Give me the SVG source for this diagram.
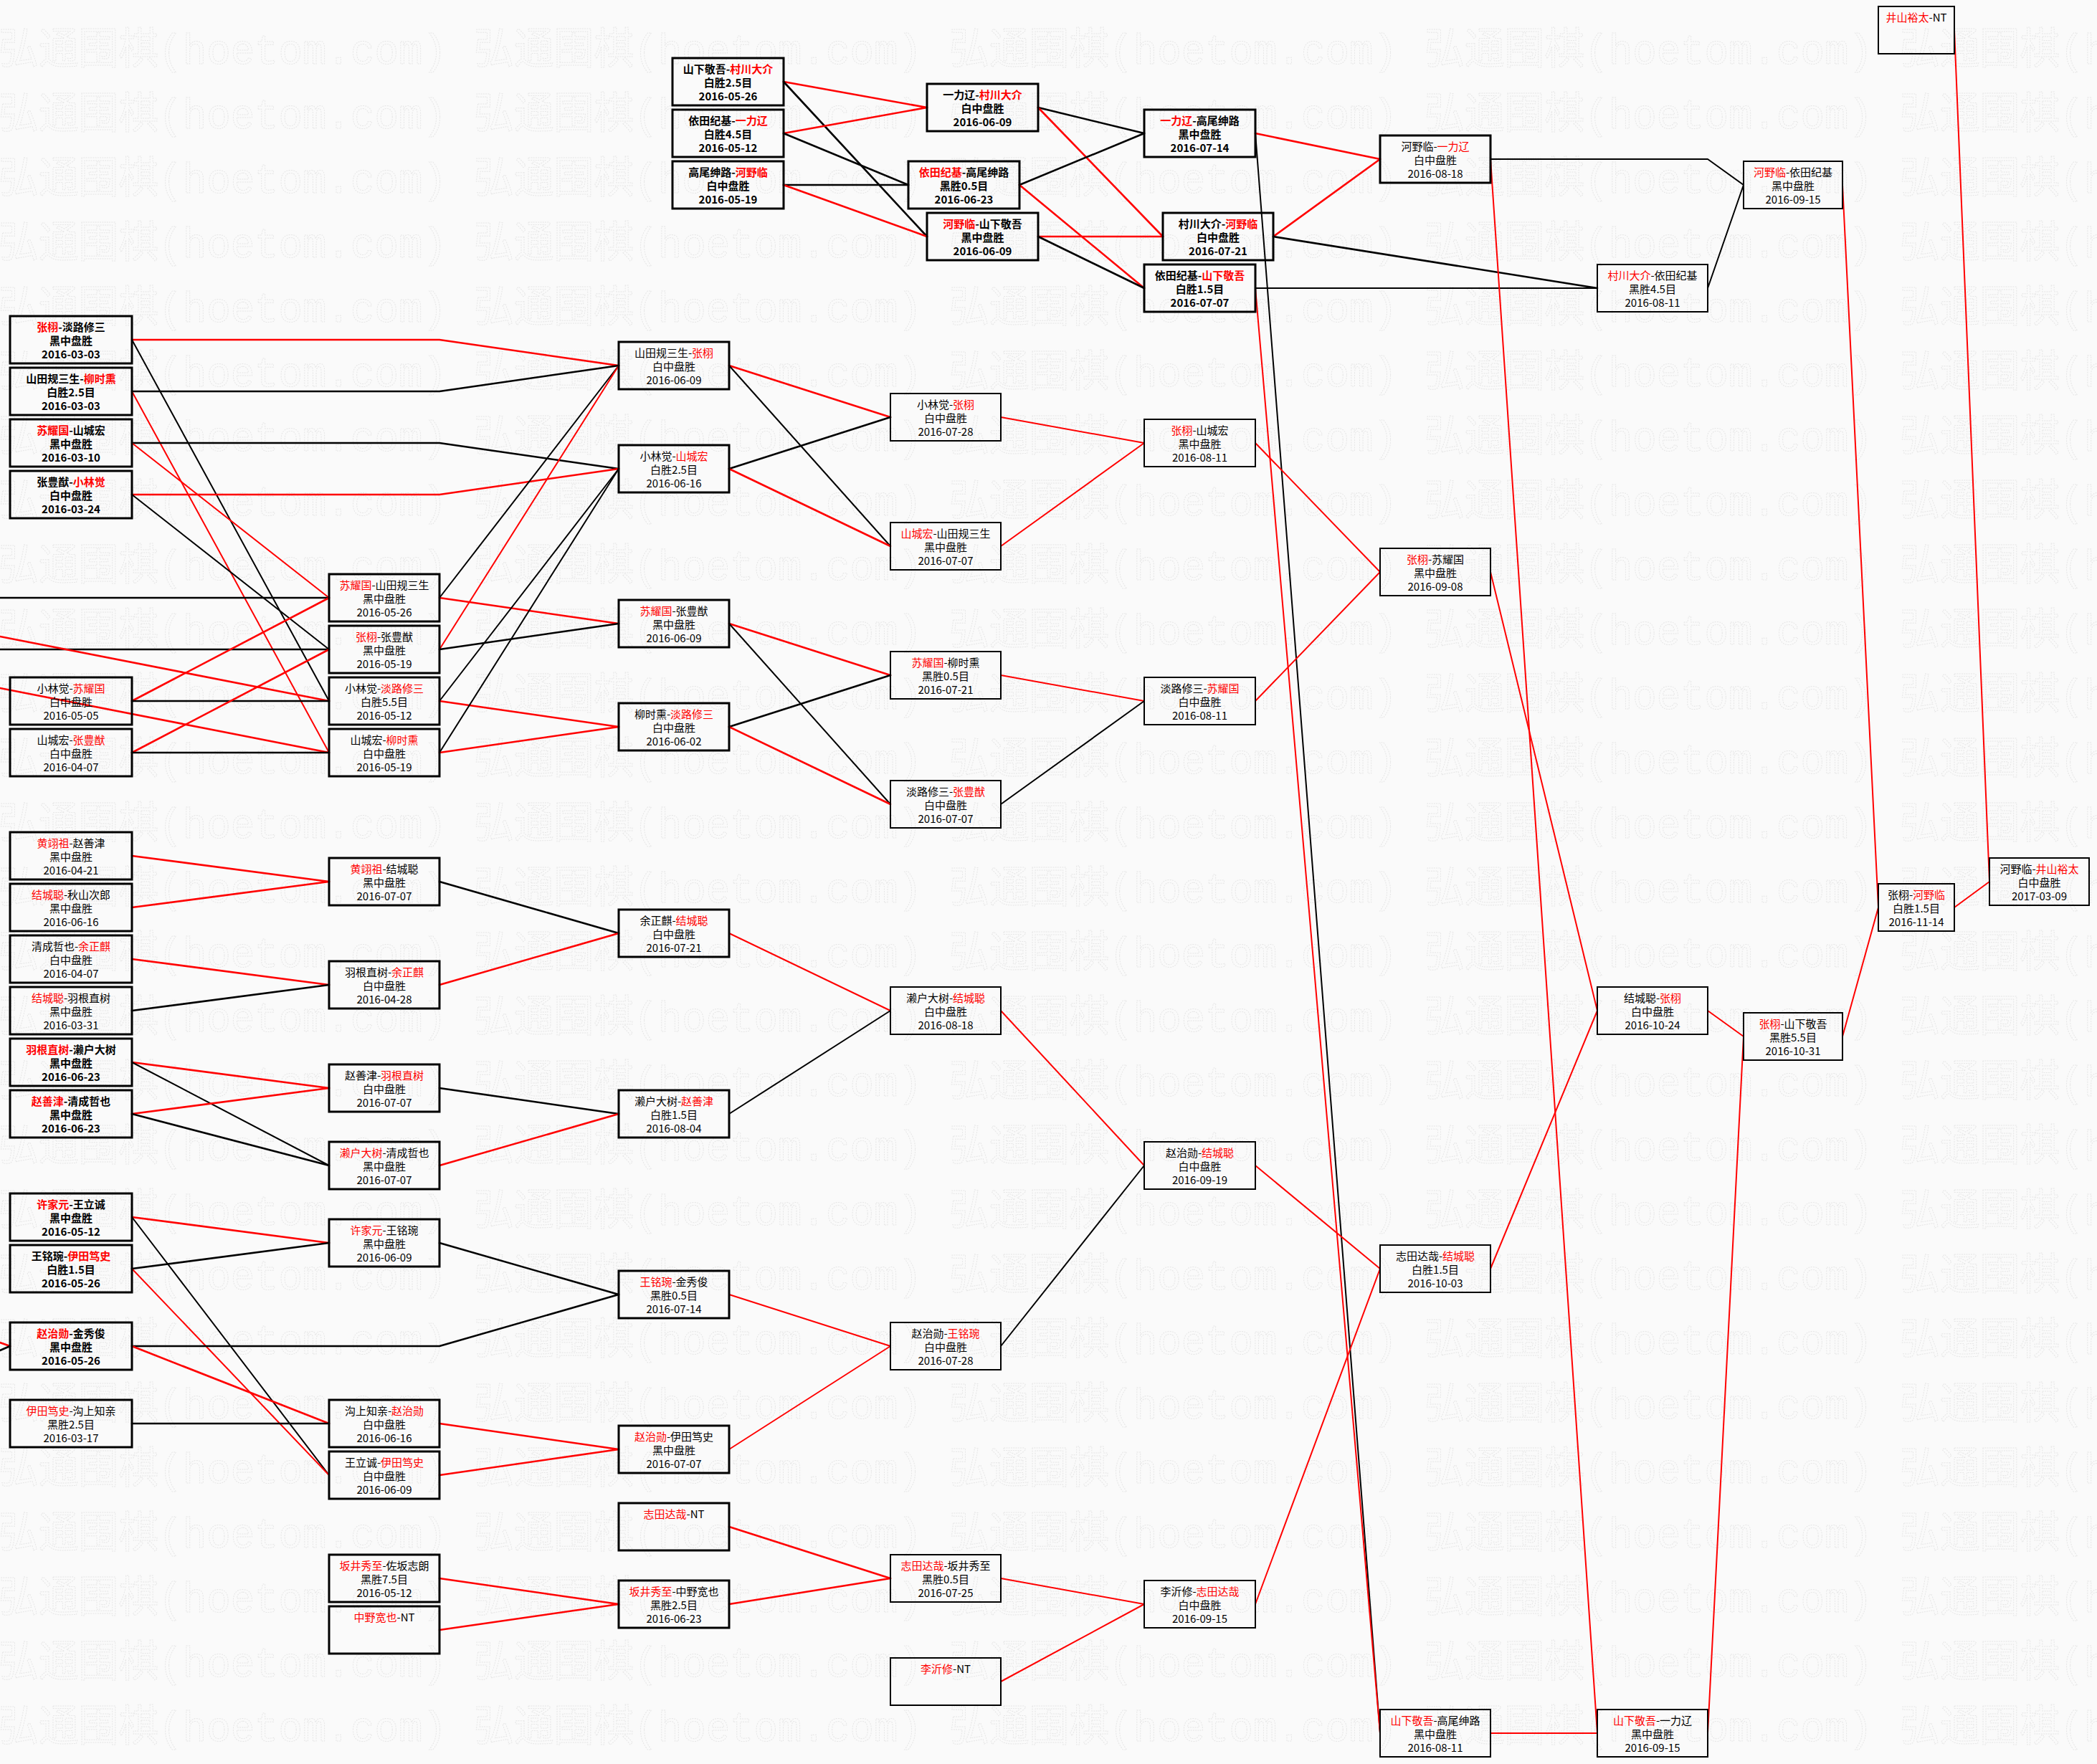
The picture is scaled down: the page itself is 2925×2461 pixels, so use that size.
<svg xmlns="http://www.w3.org/2000/svg" xmlns:xlink="http://www.w3.org/1999/xlink" width="2925" height="2461" viewBox="0 0 2925 2461">
<style>
rect.box{fill:none;stroke:#000;stroke-width:2}
rect.k{stroke-width:3}
text{font-family:"Noto Sans CJK SC","Noto Sans CJK JP",sans-serif;font-size:15px;text-anchor:middle;fill:#000}
.r{fill:#f00}
.bd text{font-weight:bold}
#wires line,#wires polyline{fill:none;stroke-linecap:round;stroke-linejoin:round;stroke-width:2}
#wires .t{stroke-width:2.6}
#wires .rl{stroke:#f00}
#wires .bl{stroke:#000}
.wm text{font-family:"Liberation Mono","Noto Sans CJK SC",monospace;font-size:60px;fill:none;stroke:#e6e6e6;stroke-width:1;stroke-dasharray:2 1.5;text-anchor:start;font-weight:normal}
</style>
<defs>
<g id="wmrow" class="wm">
<text x="-2" y="0" textLength="625" lengthAdjust="spacingAndGlyphs">弘通围棋(hoetom.com)</text>
<text x="661" y="0" textLength="625" lengthAdjust="spacingAndGlyphs">弘通围棋(hoetom.com)</text>
<text x="1324" y="0" textLength="625" lengthAdjust="spacingAndGlyphs">弘通围棋(hoetom.com)</text>
<text x="1987" y="0" textLength="625" lengthAdjust="spacingAndGlyphs">弘通围棋(hoetom.com)</text>
<text x="2650" y="0" textLength="625" lengthAdjust="spacingAndGlyphs">弘通围棋(hoetom.com)</text>
</g>
</defs>
<rect x="0" y="0" width="2925" height="2461" fill="#fafafa"/>
<g id="watermark">
<use xlink:href="#wmrow" y="89"/><use xlink:href="#wmrow" y="179"/><use xlink:href="#wmrow" y="269"/><use xlink:href="#wmrow" y="359"/><use xlink:href="#wmrow" y="449"/><use xlink:href="#wmrow" y="539"/><use xlink:href="#wmrow" y="629"/><use xlink:href="#wmrow" y="719"/><use xlink:href="#wmrow" y="809"/><use xlink:href="#wmrow" y="899"/><use xlink:href="#wmrow" y="989"/><use xlink:href="#wmrow" y="1079"/><use xlink:href="#wmrow" y="1169"/><use xlink:href="#wmrow" y="1259"/><use xlink:href="#wmrow" y="1349"/><use xlink:href="#wmrow" y="1439"/><use xlink:href="#wmrow" y="1529"/><use xlink:href="#wmrow" y="1619"/><use xlink:href="#wmrow" y="1709"/><use xlink:href="#wmrow" y="1799"/><use xlink:href="#wmrow" y="1889"/><use xlink:href="#wmrow" y="1979"/><use xlink:href="#wmrow" y="2069"/><use xlink:href="#wmrow" y="2159"/><use xlink:href="#wmrow" y="2249"/><use xlink:href="#wmrow" y="2339"/><use xlink:href="#wmrow" y="2429"/>
</g>
<g id="wires">
<!-- top bracket -->
<line class="rl t" x1="1093" y1="114" x2="1293" y2="150"/>
<line class="bl t" x1="1093" y1="114" x2="1293" y2="330"/>
<line class="rl t" x1="1093" y1="186" x2="1293" y2="150"/>
<line class="bl t" x1="1093" y1="186" x2="1267" y2="258"/>
<line class="bl t" x1="1093" y1="258" x2="1267" y2="258"/>
<line class="rl t" x1="1093" y1="258" x2="1293" y2="330"/>
<line class="bl t" x1="1448" y1="150" x2="1596" y2="186"/>
<line class="rl t" x1="1448" y1="150" x2="1622" y2="330"/>
<line class="bl t" x1="1422" y1="258" x2="1596" y2="186"/>
<line class="rl t" x1="1422" y1="258" x2="1596" y2="402"/>
<line class="rl t" x1="1448" y1="330" x2="1622" y2="330"/>
<line class="bl t" x1="1448" y1="330" x2="1596" y2="402"/>
<line class="rl t" x1="1751" y1="186" x2="1925" y2="222"/>
<line class="bl" x1="1751" y1="186" x2="1925" y2="2418"/>
<line class="rl t" x1="1776" y1="330" x2="1925" y2="222"/>
<line class="bl t" x1="1776" y1="330" x2="2228" y2="402"/>
<line class="bl" x1="1751" y1="402" x2="2228" y2="402"/>
<line class="rl" x1="1751" y1="402" x2="1925" y2="2418"/>
<polyline class="bl" points="2079,222 2382,222 2432,258"/>
<line class="rl" x1="2079" y1="222" x2="2228" y2="2418"/>
<line class="bl" x1="2382" y1="402" x2="2432" y2="258"/>
<line class="rl" x1="2570" y1="258" x2="2620" y2="1266"/>
<line class="rl" x1="2726" y1="42" x2="2775" y2="1230"/>
<line class="rl" x1="2726" y1="1266" x2="2775" y2="1230"/>
<line class="rl" x1="2570" y1="1446" x2="2620" y2="1266"/>
<line class="rl" x1="2382" y1="1410" x2="2432" y2="1446"/>
<line class="rl" x1="2382" y1="2418" x2="2432" y2="1446"/>
<line class="rl" x1="2079" y1="2418" x2="2228" y2="2418"/>
<line class="rl" x1="2079" y1="798" x2="2228" y2="1410"/>
<line class="rl" x1="2079" y1="1770" x2="2228" y2="1410"/>
<!-- upper left -->
<polyline class="rl t" points="184,474 613,474 863,510"/>
<line class="bl" x1="184" y1="474" x2="459" y2="978"/>
<polyline class="bl t" points="184,546 613,546 863,510"/>
<line class="rl" x1="184" y1="546" x2="459" y2="1050"/>
<polyline class="bl t" points="184,618 613,618 863,654"/>
<line class="rl" x1="184" y1="618" x2="459" y2="834"/>
<polyline class="rl t" points="184,690 613,690 863,654"/>
<line class="bl" x1="184" y1="690" x2="459" y2="906"/>
<line class="bl t" x1="0" y1="834" x2="459" y2="834"/>
<line class="bl t" x1="0" y1="906" x2="459" y2="906"/>
<line class="rl t" x1="0" y1="888" x2="459" y2="978"/>
<line class="rl t" x1="0" y1="960" x2="459" y2="1050"/>
<line class="rl t" x1="184" y1="978" x2="459" y2="834"/>
<line class="bl t" x1="184" y1="978" x2="459" y2="978"/>
<line class="rl t" x1="184" y1="1050" x2="459" y2="906"/>
<line class="bl t" x1="184" y1="1050" x2="459" y2="1050"/>
<line class="bl" x1="613" y1="834" x2="863" y2="510"/>
<line class="rl t" x1="613" y1="834" x2="863" y2="870"/>
<line class="rl" x1="613" y1="906" x2="863" y2="510"/>
<line class="bl t" x1="613" y1="906" x2="863" y2="870"/>
<line class="bl" x1="613" y1="978" x2="863" y2="654"/>
<line class="rl t" x1="613" y1="978" x2="863" y2="1014"/>
<line class="bl" x1="613" y1="1050" x2="863" y2="654"/>
<line class="rl t" x1="613" y1="1050" x2="863" y2="1014"/>
<line class="rl t" x1="1017" y1="510" x2="1242" y2="582"/>
<line class="bl" x1="1017" y1="510" x2="1242" y2="762"/>
<line class="bl t" x1="1017" y1="654" x2="1242" y2="582"/>
<line class="rl t" x1="1017" y1="654" x2="1242" y2="762"/>
<line class="rl t" x1="1017" y1="870" x2="1242" y2="942"/>
<line class="bl" x1="1017" y1="870" x2="1242" y2="1122"/>
<line class="bl t" x1="1017" y1="1014" x2="1242" y2="942"/>
<line class="rl t" x1="1017" y1="1014" x2="1242" y2="1122"/>
<line class="rl" x1="1396" y1="582" x2="1596" y2="618"/>
<line class="rl" x1="1396" y1="762" x2="1596" y2="618"/>
<line class="rl" x1="1396" y1="942" x2="1596" y2="978"/>
<line class="bl" x1="1396" y1="1122" x2="1596" y2="978"/>
<line class="rl" x1="1751" y1="618" x2="1925" y2="798"/>
<line class="rl" x1="1751" y1="978" x2="1925" y2="798"/>
<!-- middle left -->
<line class="rl t" x1="184" y1="1194" x2="459" y2="1230"/>
<line class="rl t" x1="184" y1="1266" x2="459" y2="1230"/>
<line class="rl t" x1="184" y1="1338" x2="459" y2="1374"/>
<line class="bl t" x1="184" y1="1410" x2="459" y2="1374"/>
<line class="rl t" x1="184" y1="1482" x2="459" y2="1518"/>
<line class="bl" x1="184" y1="1482" x2="459" y2="1626"/>
<line class="rl t" x1="184" y1="1554" x2="459" y2="1518"/>
<line class="bl t" x1="184" y1="1554" x2="459" y2="1626"/>
<line class="bl t" x1="613" y1="1230" x2="863" y2="1302"/>
<line class="rl t" x1="613" y1="1374" x2="863" y2="1302"/>
<line class="bl t" x1="613" y1="1518" x2="863" y2="1554"/>
<line class="rl t" x1="613" y1="1626" x2="863" y2="1554"/>
<line class="rl" x1="1017" y1="1302" x2="1242" y2="1410"/>
<line class="bl" x1="1017" y1="1554" x2="1242" y2="1410"/>
<line class="rl" x1="1396" y1="1410" x2="1596" y2="1626"/>
<line class="bl" x1="1396" y1="1878" x2="1596" y2="1626"/>
<line class="rl" x1="1751" y1="1626" x2="1925" y2="1770"/>
<line class="rl" x1="1751" y1="2238" x2="1925" y2="1770"/>
<!-- lower left -->
<line class="rl t" x1="184" y1="1698" x2="459" y2="1734"/>
<line class="bl" x1="184" y1="1698" x2="459" y2="2058"/>
<line class="bl t" x1="184" y1="1770" x2="459" y2="1734"/>
<line class="rl" x1="184" y1="1770" x2="459" y2="2058"/>
<polyline class="bl t" points="184,1878 613,1878 863,1806"/>
<line class="rl t" x1="184" y1="1878" x2="459" y2="1986"/>
<line class="rl t" x1="0" y1="1873" x2="14" y2="1878"/>
<line class="bl t" x1="0" y1="1884" x2="14" y2="1878"/>
<line class="bl t" x1="184" y1="1986" x2="459" y2="1986"/>
<line class="bl t" x1="613" y1="1734" x2="863" y2="1806"/>
<line class="rl t" x1="613" y1="1986" x2="863" y2="2022"/>
<line class="rl t" x1="613" y1="2058" x2="863" y2="2022"/>
<line class="rl" x1="1017" y1="1806" x2="1242" y2="1878"/>
<line class="rl" x1="1017" y1="2022" x2="1242" y2="1878"/>
<line class="rl t" x1="613" y1="2202" x2="863" y2="2238"/>
<line class="rl t" x1="613" y1="2274" x2="863" y2="2238"/>
<line class="rl t" x1="1017" y1="2130" x2="1242" y2="2202"/>
<line class="rl t" x1="1017" y1="2238" x2="1242" y2="2202"/>
<line class="rl" x1="1396" y1="2202" x2="1596" y2="2238"/>
<line class="rl" x1="1396" y1="2346" x2="1596" y2="2238"/>
</g>
<g id="nodes">
<!-- top bracket -->
<g id="n-A1" class="bd" transform="translate(938,81)"><rect class="box k" width="155" height="66"/><text x="77.5" y="21">山下敬吾-<tspan class="r">村川大介</tspan></text><text x="77.5" y="40">白胜2.5目</text><text x="77.5" y="59">2016-05-26</text></g>
<g id="n-A2" class="bd" transform="translate(938,153)"><rect class="box k" width="155" height="66"/><text x="77.5" y="21">依田纪基-<tspan class="r">一力辽</tspan></text><text x="77.5" y="40">白胜4.5目</text><text x="77.5" y="59">2016-05-12</text></g>
<g id="n-A3" class="bd" transform="translate(938,225)"><rect class="box k" width="155" height="66"/><text x="77.5" y="21">高尾绅路-<tspan class="r">河野临</tspan></text><text x="77.5" y="40">白中盘胜</text><text x="77.5" y="59">2016-05-19</text></g>
<g id="n-B1" class="bd" transform="translate(1293,117)"><rect class="box k" width="155" height="66"/><text x="77.5" y="21">一力辽-<tspan class="r">村川大介</tspan></text><text x="77.5" y="40">白中盘胜</text><text x="77.5" y="59">2016-06-09</text></g>
<g id="n-B2" class="bd" transform="translate(1267,225)"><rect class="box k" width="155" height="66"/><text x="77.5" y="21"><tspan class="r">依田纪基</tspan>-高尾绅路</text><text x="77.5" y="40">黑胜0.5目</text><text x="77.5" y="59">2016-06-23</text></g>
<g id="n-B3" class="bd" transform="translate(1293,297)"><rect class="box k" width="155" height="66"/><text x="77.5" y="21"><tspan class="r">河野临</tspan>-山下敬吾</text><text x="77.5" y="40">黑中盘胜</text><text x="77.5" y="59">2016-06-09</text></g>
<g id="n-C1" class="bd" transform="translate(1596,153)"><rect class="box k" width="155" height="66"/><text x="77.5" y="21"><tspan class="r">一力辽</tspan>-高尾绅路</text><text x="77.5" y="40">黑中盘胜</text><text x="77.5" y="59">2016-07-14</text></g>
<g id="n-C2" class="bd" transform="translate(1622,297)"><rect class="box k" width="154" height="66"/><text x="77" y="21">村川大介-<tspan class="r">河野临</tspan></text><text x="77" y="40">白中盘胜</text><text x="77" y="59">2016-07-21</text></g>
<g id="n-C3" class="bd" transform="translate(1596,369)"><rect class="box k" width="155" height="66"/><text x="77.5" y="21">依田纪基-<tspan class="r">山下敬吾</tspan></text><text x="77.5" y="40">白胜1.5目</text><text x="77.5" y="59">2016-07-07</text></g>
<g id="n-D1" transform="translate(1925,189)"><rect class="box k" width="154" height="66"/><text x="77" y="21">河野临-<tspan class="r">一力辽</tspan></text><text x="77" y="40">白中盘胜</text><text x="77" y="59">2016-08-18</text></g>
<g id="n-E0" transform="translate(2228,369)"><rect class="box" width="154" height="66"/><text x="77" y="21"><tspan class="r">村川大介</tspan>-依田纪基</text><text x="77" y="40">黑胜4.5目</text><text x="77" y="59">2016-08-11</text></g>
<g id="n-E1" transform="translate(2432,225)"><rect class="box" width="138" height="66"/><text x="69" y="21"><tspan class="r">河野临</tspan>-依田纪基</text><text x="69" y="40">黑中盘胜</text><text x="69" y="59">2016-09-15</text></g>
<g id="n-NT1" transform="translate(2620,9)"><rect class="box" width="106" height="66"/><text x="53" y="21"><tspan class="r">井山裕太</tspan>-NT</text></g>
<!-- upper left -->
<g id="n-P1" class="bd" transform="translate(14,441)"><rect class="box k" width="170" height="66"/><text x="85" y="21"><tspan class="r">张栩</tspan>-淡路修三</text><text x="85" y="40">黑中盘胜</text><text x="85" y="59">2016-03-03</text></g>
<g id="n-P2" class="bd" transform="translate(14,513)"><rect class="box k" width="170" height="66"/><text x="85" y="21">山田规三生-<tspan class="r">柳时熏</tspan></text><text x="85" y="40">白胜2.5目</text><text x="85" y="59">2016-03-03</text></g>
<g id="n-P3" class="bd" transform="translate(14,585)"><rect class="box k" width="170" height="66"/><text x="85" y="21"><tspan class="r">苏耀国</tspan>-山城宏</text><text x="85" y="40">黑中盘胜</text><text x="85" y="59">2016-03-10</text></g>
<g id="n-P4" class="bd" transform="translate(14,657)"><rect class="box k" width="170" height="66"/><text x="85" y="21">张豊猷-<tspan class="r">小林觉</tspan></text><text x="85" y="40">白中盘胜</text><text x="85" y="59">2016-03-24</text></g>
<g id="n-P5" transform="translate(14,945)"><rect class="box k" width="170" height="66"/><text x="85" y="21">小林觉-<tspan class="r">苏耀国</tspan></text><text x="85" y="40">白中盘胜</text><text x="85" y="59">2016-05-05</text></g>
<g id="n-P6" transform="translate(14,1017)"><rect class="box k" width="170" height="66"/><text x="85" y="21">山城宏-<tspan class="r">张豊猷</tspan></text><text x="85" y="40">白中盘胜</text><text x="85" y="59">2016-04-07</text></g>
<g id="n-Q1" transform="translate(459,801)"><rect class="box k" width="154" height="66"/><text x="77" y="21"><tspan class="r">苏耀国</tspan>-山田规三生</text><text x="77" y="40">黑中盘胜</text><text x="77" y="59">2016-05-26</text></g>
<g id="n-Q2" transform="translate(459,873)"><rect class="box k" width="154" height="66"/><text x="77" y="21"><tspan class="r">张栩</tspan>-张豊猷</text><text x="77" y="40">黑中盘胜</text><text x="77" y="59">2016-05-19</text></g>
<g id="n-Q3" transform="translate(459,945)"><rect class="box k" width="154" height="66"/><text x="77" y="21">小林觉-<tspan class="r">淡路修三</tspan></text><text x="77" y="40">白胜5.5目</text><text x="77" y="59">2016-05-12</text></g>
<g id="n-Q4" transform="translate(459,1017)"><rect class="box k" width="154" height="66"/><text x="77" y="21">山城宏-<tspan class="r">柳时熏</tspan></text><text x="77" y="40">白中盘胜</text><text x="77" y="59">2016-05-19</text></g>
<g id="n-R1" transform="translate(863,477)"><rect class="box k" width="154" height="66"/><text x="77" y="21">山田规三生-<tspan class="r">张栩</tspan></text><text x="77" y="40">白中盘胜</text><text x="77" y="59">2016-06-09</text></g>
<g id="n-R2" transform="translate(863,621)"><rect class="box k" width="154" height="66"/><text x="77" y="21">小林觉-<tspan class="r">山城宏</tspan></text><text x="77" y="40">白胜2.5目</text><text x="77" y="59">2016-06-16</text></g>
<g id="n-R3" transform="translate(863,837)"><rect class="box k" width="154" height="66"/><text x="77" y="21"><tspan class="r">苏耀国</tspan>-张豊猷</text><text x="77" y="40">黑中盘胜</text><text x="77" y="59">2016-06-09</text></g>
<g id="n-R4" transform="translate(863,981)"><rect class="box k" width="154" height="66"/><text x="77" y="21">柳时熏-<tspan class="r">淡路修三</tspan></text><text x="77" y="40">白中盘胜</text><text x="77" y="59">2016-06-02</text></g>
<g id="n-S1" transform="translate(1242,549)"><rect class="box" width="154" height="66"/><text x="77" y="21">小林觉-<tspan class="r">张栩</tspan></text><text x="77" y="40">白中盘胜</text><text x="77" y="59">2016-07-28</text></g>
<g id="n-S2" transform="translate(1242,729)"><rect class="box" width="154" height="66"/><text x="77" y="21"><tspan class="r">山城宏</tspan>-山田规三生</text><text x="77" y="40">黑中盘胜</text><text x="77" y="59">2016-07-07</text></g>
<g id="n-S3" transform="translate(1242,909)"><rect class="box" width="154" height="66"/><text x="77" y="21"><tspan class="r">苏耀国</tspan>-柳时熏</text><text x="77" y="40">黑胜0.5目</text><text x="77" y="59">2016-07-21</text></g>
<g id="n-S4" transform="translate(1242,1089)"><rect class="box" width="154" height="66"/><text x="77" y="21">淡路修三-<tspan class="r">张豊猷</tspan></text><text x="77" y="40">白中盘胜</text><text x="77" y="59">2016-07-07</text></g>
<g id="n-T1" transform="translate(1596,585)"><rect class="box" width="155" height="66"/><text x="77.5" y="21"><tspan class="r">张栩</tspan>-山城宏</text><text x="77.5" y="40">黑中盘胜</text><text x="77.5" y="59">2016-08-11</text></g>
<g id="n-T2" transform="translate(1596,945)"><rect class="box" width="155" height="66"/><text x="77.5" y="21">淡路修三-<tspan class="r">苏耀国</tspan></text><text x="77.5" y="40">白中盘胜</text><text x="77.5" y="59">2016-08-11</text></g>
<g id="n-U1" transform="translate(1925,765)"><rect class="box" width="154" height="66"/><text x="77" y="21"><tspan class="r">张栩</tspan>-苏耀国</text><text x="77" y="40">黑中盘胜</text><text x="77" y="59">2016-09-08</text></g>
<!-- middle left -->
<g id="n-V1" transform="translate(14,1161)"><rect class="box k" width="170" height="66"/><text x="85" y="21"><tspan class="r">黄翊祖</tspan>-赵善津</text><text x="85" y="40">黑中盘胜</text><text x="85" y="59">2016-04-21</text></g>
<g id="n-V2" transform="translate(14,1233)"><rect class="box k" width="170" height="66"/><text x="85" y="21"><tspan class="r">结城聪</tspan>-秋山次郎</text><text x="85" y="40">黑中盘胜</text><text x="85" y="59">2016-06-16</text></g>
<g id="n-V3" transform="translate(14,1305)"><rect class="box k" width="170" height="66"/><text x="85" y="21">清成哲也-<tspan class="r">余正麒</tspan></text><text x="85" y="40">白中盘胜</text><text x="85" y="59">2016-04-07</text></g>
<g id="n-V4" transform="translate(14,1377)"><rect class="box k" width="170" height="66"/><text x="85" y="21"><tspan class="r">结城聪</tspan>-羽根直树</text><text x="85" y="40">黑中盘胜</text><text x="85" y="59">2016-03-31</text></g>
<g id="n-V5" class="bd" transform="translate(14,1449)"><rect class="box k" width="170" height="66"/><text x="85" y="21"><tspan class="r">羽根直树</tspan>-濑户大树</text><text x="85" y="40">黑中盘胜</text><text x="85" y="59">2016-06-23</text></g>
<g id="n-V6" class="bd" transform="translate(14,1521)"><rect class="box k" width="170" height="66"/><text x="85" y="21"><tspan class="r">赵善津</tspan>-清成哲也</text><text x="85" y="40">黑中盘胜</text><text x="85" y="59">2016-06-23</text></g>
<g id="n-W1" transform="translate(459,1197)"><rect class="box k" width="154" height="66"/><text x="77" y="21"><tspan class="r">黄翊祖</tspan>-结城聪</text><text x="77" y="40">黑中盘胜</text><text x="77" y="59">2016-07-07</text></g>
<g id="n-W2" transform="translate(459,1341)"><rect class="box k" width="154" height="66"/><text x="77" y="21">羽根直树-<tspan class="r">余正麒</tspan></text><text x="77" y="40">白中盘胜</text><text x="77" y="59">2016-04-28</text></g>
<g id="n-W3" transform="translate(459,1485)"><rect class="box k" width="154" height="66"/><text x="77" y="21">赵善津-<tspan class="r">羽根直树</tspan></text><text x="77" y="40">白中盘胜</text><text x="77" y="59">2016-07-07</text></g>
<g id="n-W4" transform="translate(459,1593)"><rect class="box k" width="154" height="66"/><text x="77" y="21"><tspan class="r">濑户大树</tspan>-清成哲也</text><text x="77" y="40">黑中盘胜</text><text x="77" y="59">2016-07-07</text></g>
<g id="n-X1" transform="translate(863,1269)"><rect class="box k" width="154" height="66"/><text x="77" y="21">余正麒-<tspan class="r">结城聪</tspan></text><text x="77" y="40">白中盘胜</text><text x="77" y="59">2016-07-21</text></g>
<g id="n-X2" transform="translate(863,1521)"><rect class="box k" width="154" height="66"/><text x="77" y="21">濑户大树-<tspan class="r">赵善津</tspan></text><text x="77" y="40">白胜1.5目</text><text x="77" y="59">2016-08-04</text></g>
<g id="n-Y1" transform="translate(1242,1377)"><rect class="box" width="154" height="66"/><text x="77" y="21">濑户大树-<tspan class="r">结城聪</tspan></text><text x="77" y="40">白中盘胜</text><text x="77" y="59">2016-08-18</text></g>
<g id="n-Z1" transform="translate(1596,1593)"><rect class="box" width="155" height="66"/><text x="77.5" y="21">赵治勋-<tspan class="r">结城聪</tspan></text><text x="77.5" y="40">白中盘胜</text><text x="77.5" y="59">2016-09-19</text></g>
<!-- lower left -->
<g id="n-K1" class="bd" transform="translate(14,1665)"><rect class="box k" width="170" height="66"/><text x="85" y="21"><tspan class="r">许家元</tspan>-王立诚</text><text x="85" y="40">黑中盘胜</text><text x="85" y="59">2016-05-12</text></g>
<g id="n-K2" class="bd" transform="translate(14,1737)"><rect class="box k" width="170" height="66"/><text x="85" y="21">王铭琬-<tspan class="r">伊田笃史</tspan></text><text x="85" y="40">白胜1.5目</text><text x="85" y="59">2016-05-26</text></g>
<g id="n-K3" class="bd" transform="translate(14,1845)"><rect class="box k" width="170" height="66"/><text x="85" y="21"><tspan class="r">赵治勋</tspan>-金秀俊</text><text x="85" y="40">黑中盘胜</text><text x="85" y="59">2016-05-26</text></g>
<g id="n-K4" transform="translate(14,1953)"><rect class="box k" width="170" height="66"/><text x="85" y="21"><tspan class="r">伊田笃史</tspan>-沟上知亲</text><text x="85" y="40">黑胜2.5目</text><text x="85" y="59">2016-03-17</text></g>
<g id="n-M1" transform="translate(459,1701)"><rect class="box k" width="154" height="66"/><text x="77" y="21"><tspan class="r">许家元</tspan>-王铭琬</text><text x="77" y="40">黑中盘胜</text><text x="77" y="59">2016-06-09</text></g>
<g id="n-M2" transform="translate(459,1953)"><rect class="box k" width="154" height="66"/><text x="77" y="21">沟上知亲-<tspan class="r">赵治勋</tspan></text><text x="77" y="40">白中盘胜</text><text x="77" y="59">2016-06-16</text></g>
<g id="n-M3" transform="translate(459,2025)"><rect class="box k" width="154" height="66"/><text x="77" y="21">王立诚-<tspan class="r">伊田笃史</tspan></text><text x="77" y="40">白中盘胜</text><text x="77" y="59">2016-06-09</text></g>
<g id="n-N1" transform="translate(863,1773)"><rect class="box k" width="154" height="66"/><text x="77" y="21"><tspan class="r">王铭琬</tspan>-金秀俊</text><text x="77" y="40">黑胜0.5目</text><text x="77" y="59">2016-07-14</text></g>
<g id="n-N2" transform="translate(863,1989)"><rect class="box k" width="154" height="66"/><text x="77" y="21"><tspan class="r">赵治勋</tspan>-伊田笃史</text><text x="77" y="40">黑中盘胜</text><text x="77" y="59">2016-07-07</text></g>
<g id="n-O1" transform="translate(1242,1845)"><rect class="box" width="154" height="66"/><text x="77" y="21">赵治勋-<tspan class="r">王铭琬</tspan></text><text x="77" y="40">白中盘胜</text><text x="77" y="59">2016-07-28</text></g>
<g id="n-G1" transform="translate(459,2169)"><rect class="box k" width="154" height="66"/><text x="77" y="21"><tspan class="r">坂井秀至</tspan>-佐坂志朗</text><text x="77" y="40">黑胜7.5目</text><text x="77" y="59">2016-05-12</text></g>
<g id="n-G2" transform="translate(459,2241)"><rect class="box k" width="154" height="66"/><text x="77" y="21"><tspan class="r">中野宽也</tspan>-NT</text></g>
<g id="n-H1" transform="translate(863,2097)"><rect class="box k" width="154" height="66"/><text x="77" y="21"><tspan class="r">志田达哉</tspan>-NT</text></g>
<g id="n-H2" transform="translate(863,2205)"><rect class="box k" width="154" height="66"/><text x="77" y="21"><tspan class="r">坂井秀至</tspan>-中野宽也</text><text x="77" y="40">黑胜2.5目</text><text x="77" y="59">2016-06-23</text></g>
<g id="n-I1" transform="translate(1242,2169)"><rect class="box" width="154" height="66"/><text x="77" y="21"><tspan class="r">志田达哉</tspan>-坂井秀至</text><text x="77" y="40">黑胜0.5目</text><text x="77" y="59">2016-07-25</text></g>
<g id="n-I2" transform="translate(1242,2313)"><rect class="box" width="154" height="66"/><text x="77" y="21"><tspan class="r">李沂修</tspan>-NT</text></g>
<g id="n-J1" transform="translate(1596,2205)"><rect class="box" width="155" height="66"/><text x="77.5" y="21">李沂修-<tspan class="r">志田达哉</tspan></text><text x="77.5" y="40">白中盘胜</text><text x="77.5" y="59">2016-09-15</text></g>
<!-- right -->
<g id="n-F1" transform="translate(1925,1737)"><rect class="box" width="154" height="66"/><text x="77" y="21">志田达哉-<tspan class="r">结城聪</tspan></text><text x="77" y="40">白胜1.5目</text><text x="77" y="59">2016-10-03</text></g>
<g id="n-F2" transform="translate(1925,2385)"><rect class="box" width="154" height="66"/><text x="77" y="21"><tspan class="r">山下敬吾</tspan>-高尾绅路</text><text x="77" y="40">黑中盘胜</text><text x="77" y="59">2016-08-11</text></g>
<g id="n-F3" transform="translate(2228,1377)"><rect class="box" width="154" height="66"/><text x="77" y="21">结城聪-<tspan class="r">张栩</tspan></text><text x="77" y="40">白中盘胜</text><text x="77" y="59">2016-10-24</text></g>
<g id="n-F4" transform="translate(2228,2385)"><rect class="box" width="154" height="66"/><text x="77" y="21"><tspan class="r">山下敬吾</tspan>-一力辽</text><text x="77" y="40">黑中盘胜</text><text x="77" y="59">2016-09-15</text></g>
<g id="n-F5" transform="translate(2432,1413)"><rect class="box" width="138" height="66"/><text x="69" y="21"><tspan class="r">张栩</tspan>-山下敬吾</text><text x="69" y="40">黑胜5.5目</text><text x="69" y="59">2016-10-31</text></g>
<g id="n-F6" transform="translate(2620,1233)"><rect class="box" width="106" height="66"/><text x="53" y="21">张栩-<tspan class="r">河野临</tspan></text><text x="53" y="40">白胜1.5目</text><text x="53" y="59">2016-11-14</text></g>
<g id="n-F7" transform="translate(2775,1197)"><rect class="box" width="139" height="66"/><text x="69.5" y="21">河野临-<tspan class="r">井山裕太</tspan></text><text x="69.5" y="40">白中盘胜</text><text x="69.5" y="59">2017-03-09</text></g>
</g>
</svg>
